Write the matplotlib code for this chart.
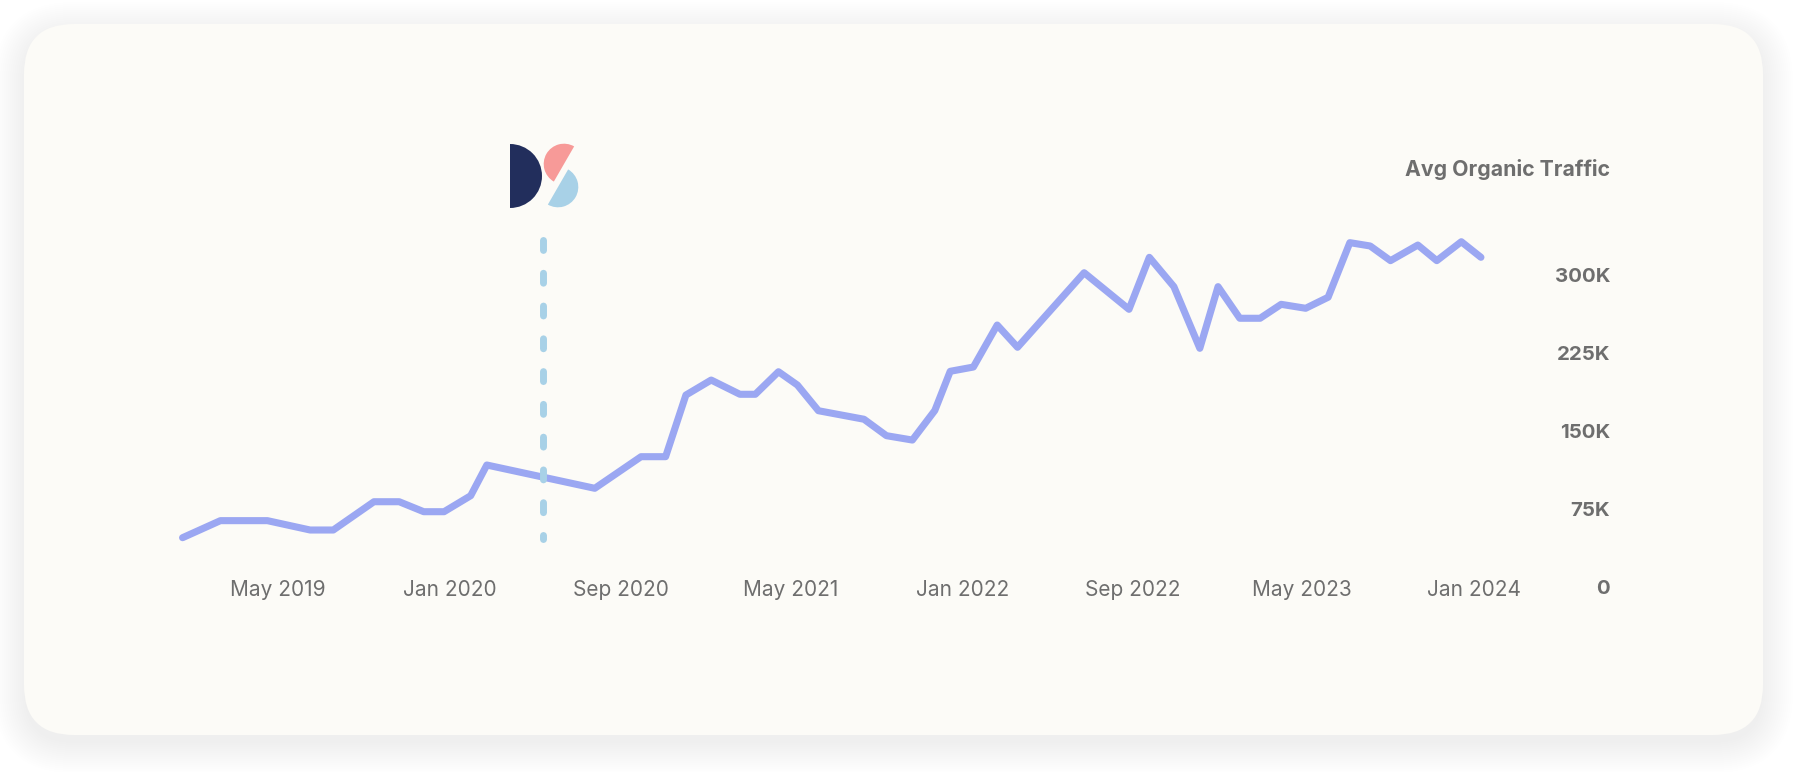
import numpy as np
import pandas as pd
import matplotlib
import matplotlib.pyplot as plt
import matplotlib.dates as mdates
from matplotlib.patches import FancyBboxPatch, Wedge
from matplotlib.transforms import IdentityTransform

# Avg organic traffic
dates = ["2018-12-16", "2019-02-08", "2019-04-16", "2019-06-16", "2019-07-19",
         "2019-09-15", "2019-10-21", "2019-11-25", "2019-12-24", "2020-01-31",
         "2020-02-23", "2020-07-26", "2020-09-30", "2020-11-04", "2020-12-03",
         "2021-01-08", "2021-02-18", "2021-03-12", "2021-04-14", "2021-05-11",
         "2021-06-10", "2021-08-14", "2021-09-15", "2021-10-22", "2021-11-23",
         "2021-12-15", "2022-01-17", "2022-02-20", "2022-03-21", "2022-06-24",
         "2022-08-27", "2022-09-25", "2022-10-30", "2022-12-06", "2023-01-01",
         "2023-02-01", "2023-03-02", "2023-04-01", "2023-05-06", "2023-06-07",
         "2023-07-08", "2023-08-06", "2023-09-04", "2023-10-13", "2023-11-09",
         "2023-12-14", "2024-01-11"]
traffic = [47400, 63800, 63800, 54800, 54800, 82000, 82000, 72400, 72400, 87800,
           117300, 94900, 125300, 125300, 184600, 199000, 185300, 185300, 207000, 194200,
           169500, 161300, 145500, 141300, 169700, 207400, 211500, 251900, 230500, 302200,
           267000, 317000, 288800, 229500, 288800, 258400, 258400, 271800, 268000, 278600,
           331100, 327900, 313800, 328800, 313800, 332000, 317000]

marker_date = "2020-05-13"
marker_range = [334000, 45700]

y_ticks = [0, 75000, 150000, 225000, 300000]
y_labels = ["0", "75K", "150K", "225K", "300K"]
x_ticks = ["2019-05-01", "2020-01-01", "2020-09-01", "2021-05-01",
           "2022-01-01", "2022-09-01", "2023-05-01", "2024-01-01"]

line_c = "#9BA7F2"
dash_c = "#A8D1E7"
text_c = "#6E6E6E"
card_c = "#FCFBF7"

plt.rcParams['font.family'] = ['Inter', 'DejaVu Sans']

W, H = 1800, 772
fig = plt.figure(figsize=(W / 100, H / 100), dpi=100)
fig.patch.set_facecolor("white")

# card shadow + card (pixel coords)
for i in range(16):
    grow = 2 * i
    sh = FancyBboxPatch((24 - grow, 37 - 8 - grow), 1739 + 2 * grow, 711 + 2 * grow,
                        boxstyle="round,pad=0,rounding_size=%d" % (50 + grow),
                        transform=IdentityTransform(), facecolor="black",
                        edgecolor="none", alpha=0.0022, zorder=0)
    fig.add_artist(sh)
card = FancyBboxPatch((24, 37), 1739, 711, boxstyle="round,pad=0,rounding_size=50",
                      transform=IdentityTransform(), facecolor=card_c,
                      edgecolor="none", zorder=1)
fig.add_artist(card)

# logo
for w in [Wedge((510, 596), 32, -90, 90, facecolor="#222E5C"),
          Wedge((564, 608), 20.3, 60, 240, facecolor="#F79A98"),
          Wedge((558, 585), 20.3, -120, 60, facecolor=dash_c)]:
    w.set_transform(IdentityTransform())
    w.set_edgecolor("none")
    w.set_zorder(2)
    fig.add_artist(w)

ax = fig.add_axes([151 / W, 185 / H, (1516 - 151) / W, 390 / H])
ax.set_facecolor("none")
ax.set_zorder(3)

x = pd.to_datetime(dates)
ax.plot(x, traffic, color=line_c, lw=5.1, solid_capstyle="round",
        solid_joinstyle="round", zorder=3)
mx = pd.to_datetime([marker_date, marker_date])
ax.plot(mx, marker_range, color=dash_c, lw=5.0, linestyle=(0, (1.43, 3.29)),
        dash_capstyle="round", zorder=4)

ax.set_xlim(pd.Timestamp("2018-11-01"), pd.Timestamp("2024-03-01"))
ax.set_ylim(0, 375000)

ax.set_xticks(pd.to_datetime(x_ticks))
ax.xaxis.set_major_formatter(mdates.DateFormatter("%b %Y"))
ax.set_yticks(y_ticks)
ax.set_yticklabels(y_labels)
ax.yaxis.tick_right()

ax.tick_params(axis="x", length=0, pad=2.2, labelsize=15, labelcolor=text_c)
ax.tick_params(axis="y", length=0, pad=67.7, labelsize=14.7, labelcolor=text_c)
for t in ax.get_xticklabels():
    t.set_va("center")
for t in ax.get_yticklabels():
    t.set_ha("right")
    t.set_fontweight("bold")

for s in ax.spines.values():
    s.set_visible(False)

fig.text(1610 / W, 603 / H, "Avg Organic Traffic", ha="right", va="center",
         fontsize=15.3, fontweight="bold", color=text_c)

fig.savefig("out.png", dpi=100, facecolor="white")
